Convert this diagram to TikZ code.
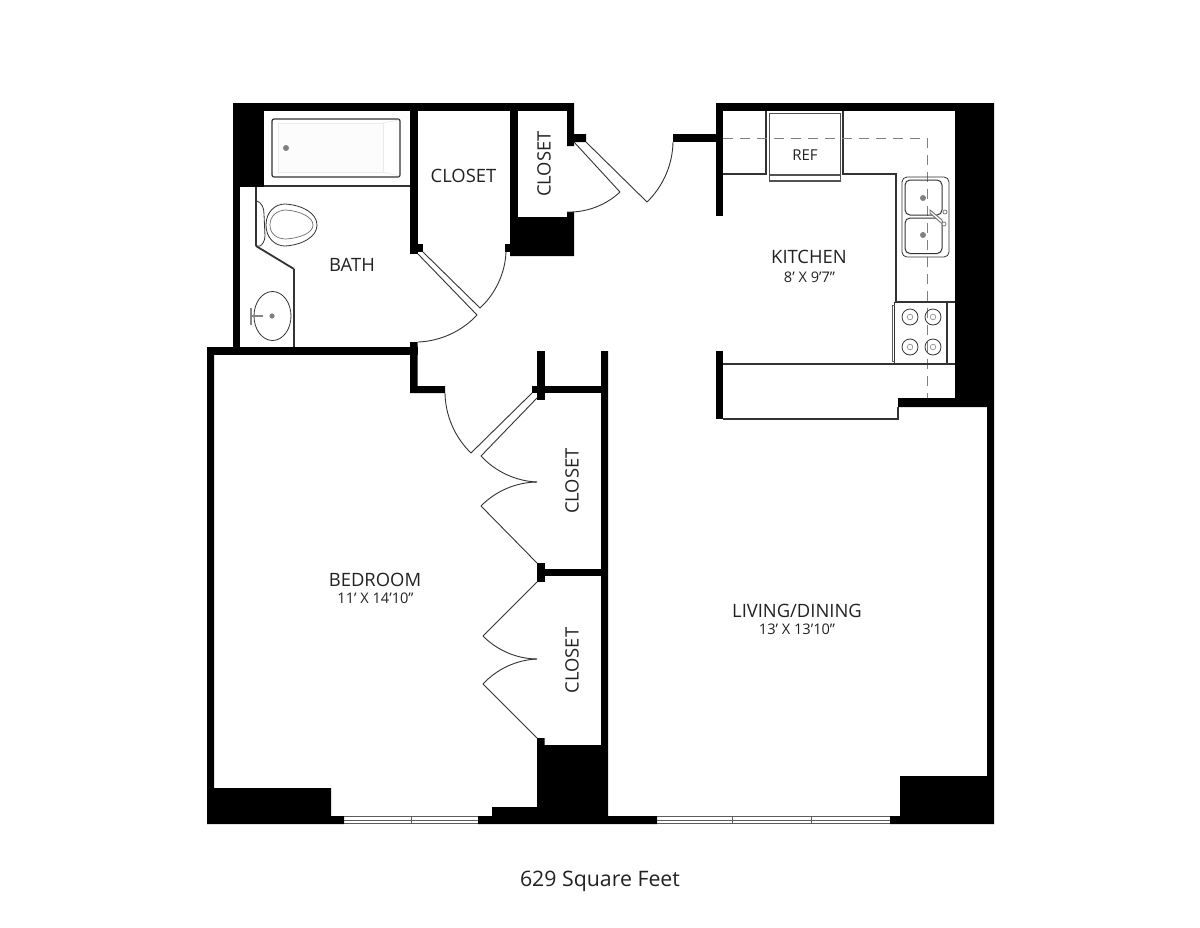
\documentclass[tikz,border=0pt]{standalone}
\usepackage{fontspec}
\setmainfont{Open Sans}
\definecolor{ink}{HTML}{222222}
\definecolor{fix}{HTML}{333333}
\definecolor{drain}{HTML}{808080}
\definecolor{dashc}{HTML}{808080}
\tikzset{
  wall/.style={fill=black,draw=none},
  thin line/.style={draw=fix,line width=1.6pt},
  fixture/.style={draw=fix,line width=1.2pt},
  fine/.style={draw=fix,line width=0.8pt},
  doorline/.style={draw=fix,line width=0.9pt},
  swing/.style={draw=fix,line width=0.9pt,looseness=0.88},
  drainpt/.style={fill=drain,draw=none},
  windowline/.style={draw=fix!80,line width=1pt},
  room/.style={text=ink,font=\fontsize{18.4}{21}\selectfont,inner sep=0pt},
  sub/.style={text=ink,font=\fontsize{14.6}{17}\selectfont,inner sep=0pt},
}
\begin{document}
\begin{tikzpicture}[x=1pt,y=-1pt]
\useasboundingbox (0,0) rectangle (1200,927);
\fill[white] (0,0) rectangle (1200,927);

% ---- walls
\fill[wall] (233,103) rectangle (574,111);
\fill[wall] (233,103) rectangle (264,187);
\fill[wall] (233,187) rectangle (240,354);
\fill[wall] (207,347) rectangle (418,354.5);
\fill[wall] (410,103) rectangle (418,254);
\fill[wall] (418,244) rectangle (423,252);
\fill[wall] (510,103) rectangle (517.5,256);
\fill[wall] (505,244) rectangle (510,252);
\fill[wall] (510,217) -- (567,217) -- (567,212) -- (574,212) -- (574,256) -- (510,256) -- cycle;
\fill[wall] (567,103) -- (574,103) -- (574,134) -- (586,134) -- (586,142) -- (574,142) -- (574,146) -- (567,146) -- cycle;
\fill[wall] (410,342) -- (417.5,342) -- (417.5,386) -- (445,386) -- (445,393) -- (410,393) -- cycle;
\fill[wall] (673,134) rectangle (716,142);
\fill[wall] (716,103) rectangle (955,111);
\fill[wall] (716,103) rectangle (723,216);
\fill[wall] (716,351) rectangle (723,419);
\fill[wall] (955,103) -- (994,103) -- (994,824) -- (890,824) -- (890,816) -- (900,816) -- (900,776) -- (987,776) -- (987,407) -- (898,407) -- (898,398) -- (955,398) -- cycle;
\fill[wall] (207,347) -- (214,347) -- (214,788) -- (331,788) -- (331,816) -- (344,816) -- (344,824) -- (207,824) -- cycle;
\fill[wall] (478,824) -- (478,816) -- (492,816) -- (492,807) -- (537,807) -- (537,738) -- (544.5,738) -- (544.5,745) -- (601,745) -- (601,351) -- (608,351) -- (608,816) -- (657,816) -- (657,824) -- cycle;
\fill[wall] (537,351) rectangle (545,400);
\fill[wall] (532,386) rectangle (601,393);
\fill[wall] (537,563) rectangle (545,582);
\fill[wall] (545,569) rectangle (601,576);

% ---- windows
\foreach \wy in {816.5,820,823.5}{
  \draw[windowline] (344,\wy) -- (478,\wy);
  \draw[windowline] (657,\wy) -- (890,\wy);
}
\draw[windowline] (411,816) -- (411,824);
\draw[windowline] (732,816) -- (732,824);
\draw[windowline] (811,816) -- (811,824);

% ---- doors
\draw[doorline] (574,142) -- (620,192);
\draw[doorline] (586,142) -- (647,202);
\draw[swing] (620,192) to[bend left=22.5] (567,212);
\draw[swing] (647,202) to[bend right=22.5] (673,142);
\draw[doorline] (418,254) -- (477,315);
\draw[doorline] (423,252) -- (480,308);
\draw[swing] (480,308) to[bend right=22.5] (506,252);
\draw[swing] (477,315) to[bend left=22.5] (418,342);
\draw[doorline] (532,393) -- (471,453);
\draw[doorline] (537,398) -- (481,456);
\draw[swing] (445,393) to[bend right=22.5] (471,453);
\draw[swing] (481,456) to[bend right=22.5] (537,482);
\draw[swing] (537,482) to[bend right=22.5] (481,506);
\draw[doorline] (481,506) -- (537,563);
\draw[doorline] (537,582) -- (483,636);
\draw[swing] (483,636) to[bend right=22.5] (537,659);
\draw[swing] (537,659) to[bend right=22.5] (483,684);
\draw[doorline] (483,684) -- (537,738);

% ---- bath
\draw[thin line] (264,186) -- (410,186);
\draw[fixture,rounded corners=2pt,fill=white] (272,119) rectangle (400,177);
\draw[draw=black!8,line width=0.7pt,fill=black!1] (278,123) -- (383,123) -- (383,172) -- (278,172) -- cycle;
\draw[draw=black!8,line width=0.7pt] (383,123) -- (399,120) (383,172) -- (399,176);
\fill[drainpt] (286,148) circle (3);
\draw[thin line] (256,187) -- (256,246);
\draw[draw=fix,line width=1.8pt] (256,246) -- (294,269);
\draw[thin line] (294,269) -- (294,347);
\draw[fine] (257,201) .. controls (262,203) and (264,208) .. (264,214) -- (265,236) .. controls (265,241) and (262,245) .. (260,246) -- (257,246);
\draw[fine] (266,225) .. controls (266,212) and (275,204) .. (285,204) .. controls (302,205) and (317,213) .. (317,225) .. controls (317,237) and (302,245) .. (285,246) .. controls (275,246) and (266,238) .. (266,225) -- cycle;
\draw[draw=fix!70,line width=0.7pt] (270,225) .. controls (270,216) and (277,210) .. (286,210) .. controls (300,211) and (313,217) .. (313,225) .. controls (313,233) and (300,238) .. (286,239) .. controls (277,239) and (270,234) .. (270,225) -- cycle;
\draw[fine] (272.5,316) ellipse (18.5 and 24.5);
\fill[drainpt] (272,316) circle (2.6);
\draw[draw=fix!60,line width=1.4pt] (251,316) -- (263,316);
\draw[draw=fix!60,line width=1.2pt] (251,308) -- (251,325);

% ---- kitchen counters
\draw[thin line] (723,174) -- (766,174) -- (766,111);
\draw[thin line] (843,111) -- (843,174) -- (896,174) -- (896,302);
\draw[draw=dashc,line width=0.9pt,dash pattern=on 10pt off 7pt] (723,138) -- (927,138) -- (927,398);
\draw[draw=fix!85,line width=1.5pt] (769.5,113.5) rectangle (840.5,181);
\draw[draw=fix!85,line width=1.3pt] (769.5,175) -- (840.5,175);
\draw[draw=fix,line width=1.5pt] (723,364) -- (895,364);
\draw[draw=fix,line width=1.5pt] (723,419) -- (898,419) -- (898,407);

% ---- kitchen sink
\draw[fine,rounded corners=5pt] (902,177) rectangle (949,257);
\draw[draw=fix,line width=1pt,rounded corners=5pt] (905,180) rectangle (942,215);
\draw[draw=fix,line width=1pt,rounded corners=5pt] (905,218) rectangle (942,253.5);
\fill[drainpt] (923,198) circle (3);
\fill[drainpt] (923,235) circle (3);
\draw[draw=fix!70,line width=0.9pt,fill=white] (930,210) -- (942,220) -- (943,224) -- (940,222) -- (930,213) -- cycle;
\draw[draw=fix!70,line width=0.7pt,fill=white] (945,212) circle (2) (944,224) circle (2);

% ---- stove
\draw[draw=fix,line width=1.5pt] (895,302) -- (955,302) (895,364) -- (955,364);
\draw[draw=fix,line width=1.3pt] (894.5,302) -- (894.5,364) (947,302) -- (947,364);
\draw[draw=fix!80,line width=0.7pt] (892.5,305) -- (892.5,361) -- (894.5,361) (892.5,305) -- (894.5,305);
\foreach \bx in {910,933}{
  \foreach \by in {317,347}{
    \draw[fine] (\bx,\by) circle (8);
    \draw[draw=fix!60,line width=0.6pt] (\bx,\by) circle (2.8);
  }
}

% ---- text
\node[room] (bathtext) at (352,265) {BATH};
\node[room] (closeta) at (463.5,176) {CLOSET};
\node[room,rotate=90] (closetb) at (544,164) {CLOSET};
\node[room,rotate=90] (closetc) at (572,481) {CLOSET};
\node[room,rotate=90] (closetd) at (572,660.5) {CLOSET};
\node[sub,font=\fontsize{15}{17}\selectfont] (reftext) at (805,155.5) {REF};
\node[room] (kitchen) at (809,257) {KITCHEN};
\node[sub] (kitchendim) at (809.5,277) {8’ X 9’7”};
\node[room] (bedroom) at (375,579.5) {BEDROOM};
\node[sub] (bedroomdim) at (375.5,598) {11’ X 14’10”};
\node[room] (living) at (797,610.5) {LIVING/DINING};
\node[sub] (livingdim) at (797,629) {13’ X 13’10”};
\node[text=ink,inner sep=0pt,font=\fontsize{21.3}{25}\selectfont] (area) at (600,881) {629 Square Feet};
\end{tikzpicture}
\end{document}
